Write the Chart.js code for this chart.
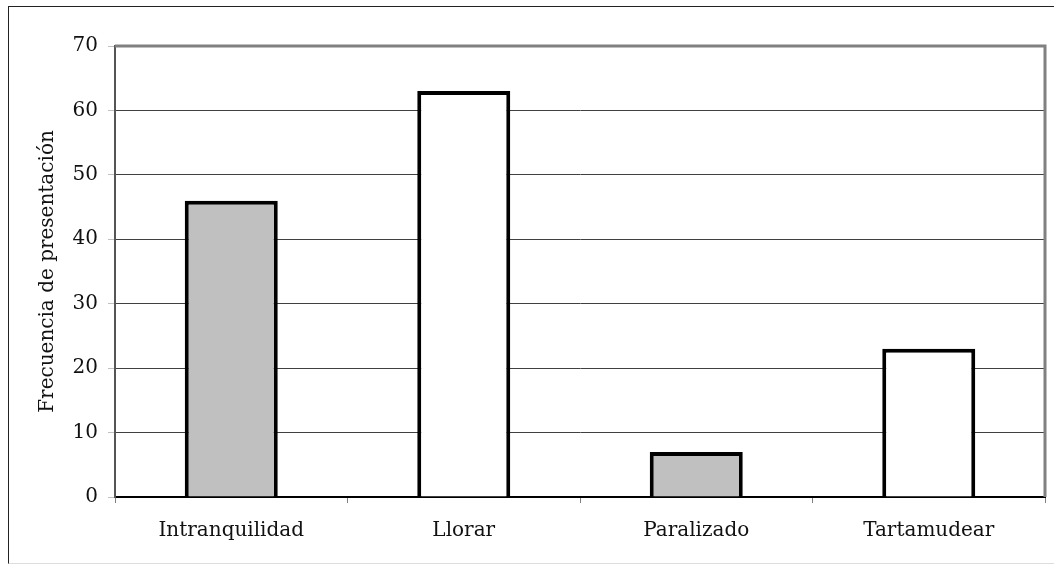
<!DOCTYPE html>
<html>
<head>
    <script src="https://cdn.jsdelivr.net/npm/chart.js"></script>
    <style>
        body { margin: 0; background: #fff; overflow: hidden; }
        .frame {
            position: absolute;
            left: 8px;
            top: 6px;
            width: 1060px;
            height: 556px;
            border-left: 1px solid #222;
            border-top: 1px solid #222;
            border-bottom: 1px solid #ddd;
        }
        #chart { position: absolute; left: 0; top: 0; }
    </style>
</head>
<body>
<div class="frame"></div>
<canvas id="chart" width="1054" height="565"></canvas>
<script>
// datos
const categorias = ['Intranquilidad', 'Llorar', 'Paralizado', 'Tartamudear'];
const frecuencias = [46, 63, 7, 23];
const colores = ['#c0c0c0', '#ffffff', '#c0c0c0', '#ffffff'];
const tituloY = 'Frecuencia de presentación';

const fuente = "'DejaVu Serif', serif";

// borde gris arriba y a la derecha del area de trazado
const bordeArea = {
    id: 'bordeArea',
    afterDatasetsDraw(chart) {
        const a = chart.chartArea;
        const ctx = chart.ctx;
        ctx.save();
        ctx.strokeStyle = '#808080';
        ctx.lineWidth = 3;
        ctx.beginPath();
        ctx.moveTo(a.left, a.top);
        ctx.lineTo(a.right, a.top);
        ctx.lineTo(a.right, a.bottom);
        ctx.stroke();
        ctx.restore();
    }
};

new Chart(document.getElementById('chart'), {
    type: 'bar',
    data: {
        labels: categorias,
        datasets: [{
            data: frecuencias,
            backgroundColor: colores,
            borderColor: '#000',
            borderWidth: 4,
            barPercentage: 0.4,
            categoryPercentage: 1
        }]
    },
    options: {
        responsive: false,
        animation: false,
        layout: { padding: { left: 0, top: 46, right: 9, bottom: 0 } },
        plugins: {
            legend: { display: false },
            tooltip: { enabled: false }
        },
        scales: {
            x: {
                afterFit: (s) => { s.height = 68; },
                border: { color: '#000', width: 2 },
                grid: { drawOnChartArea: false, color: '#808080', tickLength: 6, offset: true },
                ticks: { color: '#111', font: { family: fuente, size: 20 }, padding: 16 }
            },
            y: {
                min: 0,
                max: 70,
                afterFit: (s) => { s.width = 115; },
                border: { color: '#555', width: 2 },
                grid: { color: '#404040', lineWidth: 1, tickLength: 7, tickColor: '#c0c0c0' },
                ticks: { stepSize: 10, color: '#111', font: { family: fuente, size: 20 }, padding: 10 },
                title: {
                    display: true,
                    text: tituloY,
                    color: '#111',
                    font: { family: fuente, size: 20 },
                    padding: { top: 36, bottom: 0 }
                }
            }
        }
    },
    plugins: [bordeArea]
});
</script>
</body>
</html>
